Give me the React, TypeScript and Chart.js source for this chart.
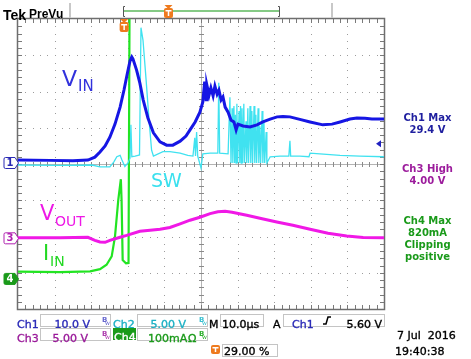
import React, { useEffect, useRef } from 'react';
import { Chart, registerables } from 'chart.js';

Chart.register(...registerables);

// ---- data (time in µs from left edge of screen, values in channel units) ----
const CHANNEL_LABELS = ['Ch1', 'Ch2', 'Ch3', 'Ch4'];
const SCALE_PER_DIV = [10, 5, 5, 100]; // V, V, V, mA
const OFFSET_DIV = [0, 0, -2.05, -3.17];
const TIME_PER_DIV_LABEL = '10.0µs';
const TRIGGER_POS_PCT = 29;
const TRIGGER_LEVEL_V = 5.6;

const VIN_POINTS: [number, number][] = [
  [0, 1.1], [8.7, 1.0], [15, 0.9], [19.1, 1.1], [21.0, 1.9], [22.4, 3.3], [23.8, 5.0], [25.1, 7.4],
  [26.5, 11.0], [27.9, 15.7], [28.96, 20.4], [29.8, 24.6], [30.6, 28.4], [31.1, 29.5], [31.4, 29.0],
  [32.4, 25.9], [33.3, 22.3], [34.2, 17.7], [35.5, 12.7], [37.0, 8.6], [38.8, 6.1], [40.6, 5.2],
  [42.3, 5.2], [44.3, 6.3], [45.9, 7.7], [47.0, 9.4], [48.4, 11.6], [49.7, 14.3], [50.5, 17.1],
  [51.0, 22.7], [51.4, 17.7], [51.6, 21.8], [52.2, 19.0], [52.7, 21.0], [53.3, 18.8], [53.8, 21.5],
  [54.4, 19.3], [54.9, 20.4], [55.5, 17.7], [56.0, 18.5], [56.6, 15.7], [57.4, 14.3], [58.2, 12.1],
  [59.0, 11.6], [59.6, 9.4], [60.1, 11.0], [61.5, 10.5], [63.4, 10.2], [65.3, 10.8], [66.9, 11.6],
  [68.9, 12.4], [70.8, 13.0], [72.4, 13.1], [74.3, 13.0], [77.0, 12.3], [79.8, 11.6], [83.3, 10.8],
  [85.8, 11.0], [88.0, 11.6], [90.7, 12.4], [92.6, 12.7], [94.8, 12.6], [96.7, 12.4], [98.9, 12.4],
  [100, 12.4],
];

const SW_POINTS: [number, number][] = [
  [0, -0.14], [11.5, -0.2], [20.2, -0.14], [22.4, -0.4], [25.1, -0.4], [26.2, 0.3], [27.0, 1.0],
  [27.9, 1.2], [28.4, 0.55], [29.2, -0.35], [30.05, 0.14], [30.6, 0.8], [30.85, 5.4], [31.1, 1.0],
  [32.0, 1.1], [32.8, 1.2], [33.2, 1.24], [33.6, 18.8], [34.15, 17.1], [35.0, 11.6], [35.8, 6.1],
  [36.5, 1.9], [37.0, 1.1], [39.6, 1.7], [41.5, 1.7], [44.3, 1.5], [46.4, 1.2], [47.8, 1.1],
  [48.3, 3.6], [48.5, 1.1], [48.8, 4.4], [49.1, 1.1], [50.0, -0.55], [50.5, 1.4], [52.5, 1.5],
  [54.6, 1.5], [54.85, 11.2], [55.1, 1.5], [57.4, 1.4], [57.9, 9.2], [58.2, 0.14],
  [58.5, 7.7], [58.7, 0.14], [59.0, 8.0], [59.2, 0.14], [59.4, 6.8], [59.6, 0.14], [59.8, 8.3],
  [60.0, 0.14], [60.4, 7.3], [60.6, 0.14], [60.8, 8.0], [61.0, 0.14], [61.2, 7.7], [61.4, 0.14],
  [61.7, 8.3], [61.9, 0.14], [62.3, 5.9], [62.5, 0.14], [62.8, 7.7], [63.0, 0.14], [63.4, 8.0],
  [63.6, 0.14], [63.9, 7.3], [64.1, 0.14], [64.5, 8.0], [64.7, 0.14], [65.0, 6.8], [65.2, 0.14],
  [65.6, 7.7], [65.8, 0.14], [66.1, 5.2], [66.3, 0.14], [66.7, 7.3], [66.9, 0.14], [67.2, 5.9],
  [67.4, 0.14], [67.8, 4.4], [68.0, 0.14], [68.9, 1.0], [71.6, 1.1], [74.0, 1.1], [74.3, 3.2],
  [74.5, 1.1], [77.0, 1.1], [79.5, 1.0], [79.8, 1.5], [82.5, 1.4], [88.0, 1.2], [93.4, 1.1],
  [100, 1.0],
];

const VOUT_POINTS: [number, number][] = [
  [0, 0.07], [11.5, 0.07], [19.1, 0.14], [21.0, -0.28], [22.4, -0.5], [23.8, -0.55], [25.1, -0.28],
  [27.9, 0.14], [29.7, 0.4], [33.3, 0.97], [36.1, 1.1], [38.8, 1.24], [41.5, 1.5], [44.3, 2.0],
  [47.0, 2.5], [49.7, 2.9], [52.5, 3.4], [54.6, 3.66], [56.6, 3.72], [58.5, 3.6], [62.5, 3.17],
  [66.1, 2.76], [70.7, 2.25], [75.1, 1.8], [79.8, 1.24], [84.7, 0.69], [89.8, 0.32], [94.3, 0.1],
  [100, 0.07],
];

const IIN_POINTS: [number, number][] = [
  [0, 20], [11.5, 19], [19.7, 21], [22.4, 27], [24.2, 39], [25.6, 62], [26.5, 117], [27.4, 218],
  [28.1, 275], [28.3, 218], [28.6, 52], [29.0, 48], [29.5, 43], [30.2, 44], [30.5, 820],
];

const MEASUREMENTS = [
  { lines: ['Ch1 Max', '29.4 V'], color: '#1f1f9f' },
  { lines: ['Ch3 High', '4.00 V'], color: '#9c1c9c' },
  { lines: ['Ch4 Max', '820mA', 'Clipping', 'positive'], color: '#1a9a1a' },
];

const TRACE_COLORS = ['#1616e4', '#40e2f0', '#f018e6', '#22e422'];
const FONT = '"DejaVu Sans", Verdana, sans-serif';

function roundRect(ctx: CanvasRenderingContext2D, x: number, y: number, w: number, h: number, r: number) {
  ctx.beginPath();
  ctx.moveTo(x + r, y);
  ctx.lineTo(x + w - r, y);
  ctx.quadraticCurveTo(x + w, y, x + w, y + r);
  ctx.lineTo(x + w, y + h - r);
  ctx.quadraticCurveTo(x + w, y + h, x + w - r, y + h);
  ctx.lineTo(x + r, y + h);
  ctx.quadraticCurveTo(x, y + h, x, y + h - r);
  ctx.lineTo(x, y + r);
  ctx.quadraticCurveTo(x, y, x + r, y);
  ctx.closePath();
}

function tIcon(ctx: CanvasRenderingContext2D, cx: number, top: number, h: number, stem: boolean) {
  ctx.fillStyle = '#ee7a1e';
  if (stem) {
    ctx.beginPath();
    ctx.moveTo(cx - 4, top);
    ctx.lineTo(cx + 4, top);
    ctx.lineTo(cx, top + 4);
    ctx.closePath();
    ctx.fill();
    top += 3;
  }
  roundRect(ctx, cx - 4.5, top, 9, h, 2);
  ctx.fill();
  ctx.fillStyle = '#ffffff';
  ctx.fillRect(cx - 3, top + 2, 6, 1.5);
  ctx.fillRect(cx - 0.75, top + 2, 1.5, h - 4);
}

function groundMarker(ctx: CanvasRenderingContext2D, y: number, label: string, color: string, filled: boolean) {
  const x0 = 4, x1 = 15, h = 11;
  ctx.beginPath();
  ctx.moveTo(x0 + 1.5, y - h / 2);
  ctx.lineTo(x1, y - h / 2);
  ctx.lineTo(x1 + 3.5, y);
  ctx.lineTo(x1, y + h / 2);
  ctx.lineTo(x0 + 1.5, y + h / 2);
  ctx.quadraticCurveTo(x0, y + h / 2, x0, y + h / 2 - 1.5);
  ctx.lineTo(x0, y - h / 2 + 1.5);
  ctx.quadraticCurveTo(x0, y - h / 2, x0 + 1.5, y - h / 2);
  ctx.closePath();
  ctx.fillStyle = filled ? color : '#ffffff';
  ctx.fill();
  ctx.strokeStyle = color;
  ctx.lineWidth = 1;
  ctx.stroke();
  ctx.fillStyle = filled ? '#ffffff' : color;
  ctx.font = `bold 10px ${FONT}`;
  ctx.textAlign = 'center';
  ctx.textBaseline = 'middle';
  ctx.fillText(label, (x0 + x1) / 2 + 0.5, y + 0.5);
}

function bwGlyph(ctx: CanvasRenderingContext2D, x: number, y: number, color: string) {
  ctx.fillStyle = color;
  ctx.textAlign = 'left';
  ctx.textBaseline = 'alphabetic';
  ctx.font = `bold 7px ${FONT}`;
  ctx.fillText('B', x, y);
  ctx.font = `6px ${FONT}`;
  ctx.fillText('w', x + 3, y + 3);
}

const scopePlugin = {
  id: 'scope',
  beforeDraw(chart: any) {
    const ctx = chart.ctx as CanvasRenderingContext2D;
    ctx.save();
    ctx.fillStyle = '#ffffff';
    ctx.fillRect(0, 0, chart.width, chart.height);
    ctx.restore();
  },
  beforeDatasetsDraw(chart: any) {
    const ctx = chart.ctx as CanvasRenderingContext2D;
    const { left, right, top, bottom } = chart.chartArea;
    const dx = (right - left) / 10;
    const dy = (bottom - top) / 8;
    ctx.save();
    ctx.fillStyle = '#9c9c9c';
    for (let i = 1; i < 10; i++) {
      if (i === 5) continue;
      const x = Math.round(left + i * dx);
      for (let j = 1; j < 40; j++) ctx.fillRect(x, Math.round(top + (j * dy) / 5), 1, 1);
    }
    for (let k = 1; k < 8; k++) {
      if (k === 4) continue;
      const y = Math.round(top + k * dy);
      for (let j = 1; j < 50; j++) ctx.fillRect(Math.round(left + (j * dx) / 5), y, 1, 1);
    }
    const xc = Math.round(left + 5 * dx);
    const yc = Math.round(top + 4 * dy);
    ctx.fillStyle = '#b4b4b4';
    ctx.fillRect(xc, top, 1, bottom - top);
    ctx.fillRect(left, yc, right - left, 1);
    ctx.fillStyle = '#8a8a8a';
    for (let j = 1; j < 40; j++) ctx.fillRect(xc - 2, Math.round(top + (j * dy) / 5), 5, 1);
    for (let j = 1; j < 50; j++) ctx.fillRect(Math.round(left + (j * dx) / 5), yc - 2, 1, 5);
    ctx.fillStyle = '#7a7a7a';
    for (let j = 1; j < 50; j++) {
      const x = Math.round(left + (j * dx) / 5);
      ctx.fillRect(x, top, 1, 4);
      ctx.fillRect(x, bottom - 4, 1, 4);
    }
    for (let j = 1; j < 40; j++) {
      const y = Math.round(top + (j * dy) / 5);
      ctx.fillRect(left, y, 4, 1);
      ctx.fillRect(right - 4, y, 4, 1);
    }
    ctx.strokeStyle = '#6e6e6e';
    ctx.lineWidth = 1.5;
    ctx.strokeRect(left - 0.5, top - 0.5, right - left + 1, bottom - top + 1);
    ctx.restore();
  },
  afterDatasetsDraw(chart: any) {
    const ctx = chart.ctx as CanvasRenderingContext2D;
    const { left, right, top } = chart.chartArea;
    const ys = chart.scales.y;
    ctx.save();

    ctx.textAlign = 'left';
    ctx.textBaseline = 'alphabetic';
    const lab = (main: string, sub: string, x: number, y: number, size: number, subSize: number, subDx: number, subDy: number, color: string) => {
      ctx.fillStyle = color;
      ctx.font = `${size}px ${FONT}`;
      ctx.fillText(main, x, y);
      if (sub) {
        ctx.font = `${subSize}px ${FONT}`;
        ctx.fillText(sub, x + subDx, y + subDy);
      }
    };
    lab('V', 'IN', 62, 86, 22, 15, 16, 5, '#3232dc');
    lab('SW', '', 151, 187, 19, 0, 0, 0, '#3ae0ee');
    lab('V', 'OUT', 40, 220, 21, 14, 15, 6, '#ee18e6');
    lab('I', 'IN', 43, 260, 21, 14, 7, 6, '#22d822');

    groundMarker(ctx, ys.getPixelForValue(OFFSET_DIV[0]) - 1, '1', '#2a2ab4', false);
    groundMarker(ctx, ys.getPixelForValue(OFFSET_DIV[2]), '3', '#b020b0', false);
    groundMarker(ctx, ys.getPixelForValue(OFFSET_DIV[3]), '4', '#1a9a1a', true);

    const ty = ys.getPixelForValue(TRIGGER_LEVEL_V / SCALE_PER_DIV[0] + OFFSET_DIV[0]);
    ctx.fillStyle = '#2020c0';
    ctx.beginPath();
    ctx.moveTo(right - 8, ty);
    ctx.lineTo(right - 3, ty - 3.5);
    ctx.lineTo(right - 3, ty + 3.5);
    ctx.closePath();
    ctx.fill();

    const tx = left + (TRIGGER_POS_PCT / 100) * (right - left);
    tIcon(ctx, tx, top, 10, true);

    // header
    ctx.fillStyle = '#000000';
    ctx.textAlign = 'left';
    ctx.font = 'bold 14px "Liberation Sans", Arial, sans-serif';
    ctx.fillText('Tek', 3, 16);
    ctx.font = 'bold 12px "Liberation Sans", Arial, sans-serif';
    ctx.fillText('PreVu', 29, 15);
    ctx.fillStyle = '#c8c8c8';
    ctx.fillRect(69, 3, 2, 15);
    ctx.fillRect(331, 3, 2, 15);
    ctx.strokeStyle = '#5cb85c';
    ctx.lineWidth = 1.5;
    ctx.beginPath();
    ctx.moveTo(124, 11);
    ctx.lineTo(279, 11);
    ctx.stroke();
    ctx.strokeStyle = '#555555';
    ctx.lineWidth = 1;
    ctx.beginPath();
    ctx.moveTo(125, 6.5); ctx.lineTo(123.5, 6.5); ctx.lineTo(123.5, 16.5); ctx.lineTo(125, 16.5);
    ctx.moveTo(278, 6.5); ctx.lineTo(279.5, 6.5); ctx.lineTo(279.5, 16.5); ctx.lineTo(278, 16.5);
    ctx.stroke();
    tIcon(ctx, 168.5, 5, 10, true);

    // right measurements
    ctx.textAlign = 'center';
    ctx.font = `bold 10px ${FONT}`;
    const blocks = [118, 169, 221];
    MEASUREMENTS.forEach((m, bi) => {
      ctx.fillStyle = m.color;
      m.lines.forEach((l, li) => ctx.fillText(l, 427.5, blocks[bi] + li * 12));
    });

    // bottom readout
    const boxes = (x: number, y: number, w: number, h: number) => {
      ctx.strokeStyle = '#c4c4c4';
      ctx.lineWidth = 1;
      ctx.strokeRect(x + 0.5, y + 0.5, w, h);
    };
    const txt = (s: string, x: number, y: number, color: string, align: CanvasTextAlign = 'left') => {
      ctx.fillStyle = color;
      ctx.strokeStyle = color;
      ctx.lineWidth = 0.35;
      ctx.textAlign = align;
      ctx.fillText(s, x, y);
      ctx.strokeText(s, x, y);
    };
    ctx.font = `11px ${FONT}`;
    txt(CHANNEL_LABELS[0], 17, 325, '#2a2ab8');
    boxes(40, 314, 70, 12);
    txt(`${SCALE_PER_DIV[0].toFixed(1)} V`, 90, 325, '#2a2ab8', 'right');
    txt(CHANNEL_LABELS[1], 113, 325, '#1cb0c4');
    boxes(137, 314, 70, 12);
    txt(`${SCALE_PER_DIV[1].toFixed(2)} V`, 186, 325, '#1cb0c4', 'right');
    txt('M', 209, 325, '#000000');
    boxes(220, 314, 43, 12);
    txt(TIME_PER_DIV_LABEL, 222, 325, '#000000');
    txt('A', 273, 325, '#000000');
    boxes(283, 314, 101, 12);
    txt(CHANNEL_LABELS[0], 292, 325, '#2a2ab8');
    txt(`${TRIGGER_LEVEL_V.toFixed(2)} V`, 382, 325, '#000000', 'right');
    ctx.strokeStyle = '#000000';
    ctx.lineWidth = 1.5;
    ctx.beginPath();
    ctx.moveTo(323, 324); ctx.lineTo(326, 324); ctx.lineTo(328, 317); ctx.lineTo(331, 317);
    ctx.stroke();
    txt(CHANNEL_LABELS[2], 17, 339, '#9a1a9a');
    boxes(40, 328, 70, 12);
    txt(`${SCALE_PER_DIV[2].toFixed(2)} V`, 88, 339, '#9a1a9a', 'right');
    ctx.fillStyle = '#1a9a1a';
    ctx.fillRect(113, 328, 23, 12);
    txt(CHANNEL_LABELS[3], 114, 338.5, '#ffffff');
    boxes(137, 328, 70, 12);
    txt(`${SCALE_PER_DIV[3]}mA`, 148, 339, '#1a9a1a');
    txt('Ω', 188, 339, '#1a9a1a');
    bwGlyph(ctx, 102, 322, '#6a6ad0');
    bwGlyph(ctx, 199, 322, '#3cc0d0');
    bwGlyph(ctx, 102, 336, '#b040b0');
    bwGlyph(ctx, 199, 336, '#30b030');
    tIcon(ctx, 215.5, 345, 9, false);
    boxes(222, 344, 55, 12);
    ctx.font = `11px ${FONT}`;
    txt(`${TRIGGER_POS_PCT.toFixed(2)} %`, 224, 355, '#000000');
    txt('7 Jul  2016', 397, 339, '#000000');
    txt('19:40:38', 395, 355, '#000000');

    ctx.restore();
  },
};

const SERIES = [VIN_POINTS, SW_POINTS, VOUT_POINTS, IIN_POINTS];
const WIDTHS = [3, 1.3, 3, 2.2];
const ORDERS = [0, 1, 2, 3];

export default function App() {
  const ref = useRef<HTMLCanvasElement | null>(null);
  useEffect(() => {
    if (!ref.current) return;
    const datasets = SERIES.map((pts, i) => ({
      label: CHANNEL_LABELS[i],
      data: pts.map(([t, v]) => ({ x: t, y: v / SCALE_PER_DIV[i] + OFFSET_DIV[i] })),
      borderColor: TRACE_COLORS[i],
      borderWidth: WIDTHS[i],
      pointRadius: 0,
      fill: false,
      tension: 0,
      order: ORDERS[i],
    }));
    const chart = new Chart(ref.current, {
      type: 'line',
      data: { datasets },
      options: {
        responsive: false,
        animation: false,
        devicePixelRatio: 1,
        events: [],
        layout: { padding: { left: 18, right: 87, top: 19, bottom: 50 } },
        plugins: { legend: { display: false }, tooltip: { enabled: false } },
        scales: {
          x: { type: 'linear', min: 0, max: 100, display: false },
          y: { type: 'linear', min: -4, max: 4, display: false },
        },
      },
      plugins: [scopePlugin],
    } as any);
    return () => chart.destroy();
  }, []);
  return (
    <div style={{ position: 'fixed', left: 0, top: 0, width: 471, height: 359, background: '#fff' }}>
      <canvas ref={ref} width={471} height={359} style={{ display: 'block', width: 471, height: 359 }} />
    </div>
  );
}
